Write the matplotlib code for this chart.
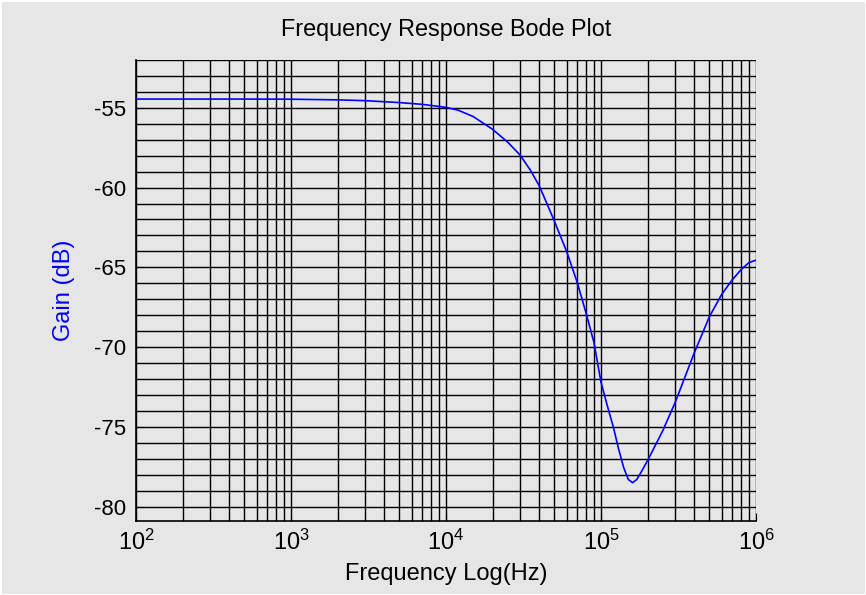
import matplotlib
matplotlib.use("Agg")
import matplotlib.pyplot as plt
from matplotlib.ticker import LogLocator, MultipleLocator, NullFormatter

plt.rcParams["font.family"] = ["Liberation Sans", "DejaVu Sans"]
plt.rcParams["axes.unicode_minus"] = False
plt.rcParams["mathtext.fontset"] = "custom"
plt.rcParams["mathtext.rm"] = "Liberation Sans"
plt.rcParams["mathtext.it"] = "Liberation Sans:italic"

# ── data ─────────────────────────────────────────────────────────────────────
freq_hz = [1e2, 2e2, 5e2, 1e3, 2e3, 3e3, 5e3, 7e3, 8e3, 1e4, 1.2e4, 1.5e4,
           2e4, 2.5e4, 3e4, 3.5e4, 4e4, 4.5e4, 5e4, 6e4, 7e4, 8e4, 9e4, 1e5,
           1.1e5, 1.2e5, 1.3e5, 1.4e5, 1.5e5, 1.6e5, 1.7e5, 1.8e5, 2e5, 2.5e5,
           3e5, 4e5, 5e5, 6e5, 7e5, 8e5, 9e5, 1e6]
gain_db = [-54.45, -54.45, -54.45, -54.46, -54.5, -54.55, -54.67, -54.78,
           -54.85, -54.97, -55.15, -55.55, -56.35, -57.15, -57.95, -58.9, -59.9,
           -61.05, -62.1, -64.0, -65.9, -67.85, -69.7, -72.2, -73.7, -75.0,
           -76.4, -77.55, -78.3, -78.5, -78.3, -77.9, -77.1, -75.25, -73.5,
           -70.35, -68.1, -66.7, -65.8, -65.15, -64.7, -64.55]

BG = "#e6e6e6"

fig = plt.figure(figsize=(8.66, 5.95), dpi=100, facecolor=BG,
                 edgecolor="white", linewidth=2)
ax = fig.add_axes([0.157, 0.1244, 0.716, 0.7748])
ax.set_facecolor(BG)

ax.plot(freq_hz, gain_db, color="blue", linewidth=1.2, zorder=3)

ax.set_xscale("log")
ax.set_xlim(1e2, 1e6)
ax.set_ylim(-80.9, -52)
ax.xaxis.set_major_locator(LogLocator(base=10))
ax.xaxis.set_minor_locator(LogLocator(base=10, subs=range(2, 10)))
ax.xaxis.set_minor_formatter(NullFormatter())
ax.yaxis.set_major_locator(MultipleLocator(5))
ax.yaxis.set_minor_locator(MultipleLocator(1))

ax.grid(which="both", color="black", linewidth=1.0)
ax.set_axisbelow(True)
ax.tick_params(which="both", direction="in", color="black")
ax.tick_params(which="major", length=6, pad=7)
ax.tick_params(which="minor", length=3)
ax.tick_params(axis="y", labelsize=16)
ax.tick_params(axis="x", labelsize=17, pad=6)

for side in ("top", "right"):
    ax.spines[side].set_visible(False)
for side in ("left", "bottom"):
    ax.spines[side].set_color("black")
    ax.spines[side].set_linewidth(1.2)

ax.set_title("Frequency Response Bode Plot", fontsize=16.8, pad=17)
ax.set_xlabel("Frequency Log(Hz)", fontsize=17, labelpad=6)
ax.set_ylabel("Gain (dB)", fontsize=17, color="blue", labelpad=14)

fig.savefig("out.png", dpi=100, facecolor=BG, edgecolor="white")
